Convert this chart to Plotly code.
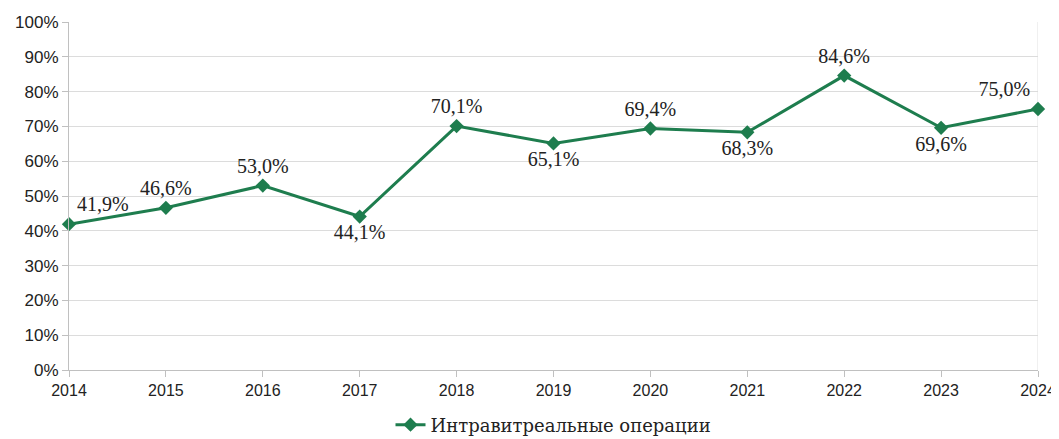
import plotly.graph_objects as go

years = [2014, 2015, 2016, 2017, 2018, 2019, 2020, 2021, 2022, 2023, 2024]
values = [41.9, 46.6, 53.0, 44.1, 70.1, 65.1, 69.4, 68.3, 84.6, 69.6, 75.0]
label_pos = ["top right", "top center", "top center", "bottom center", "top center",
             "bottom center", "top center", "bottom center", "top center",
             "bottom center", "top left"]
series_name = "Интравитреальные операции"
y_ticks = list(range(0, 101, 10))

labels = [f"{v:.1f}%".replace(".", ",") for v in values]
serif = "Liberation Serif, Times New Roman, serif"

fig = go.Figure()
fig.add_trace(go.Scatter(
    x=years, y=values, mode="lines+markers+text", name=series_name,
    line=dict(color="#1e7d4e", width=3),
    marker=dict(symbol="diamond", size=11, color="#1e7d4e"),
    text=labels, textposition=label_pos,
    textfont=dict(family=serif, size=20, color="#222222"),
    cliponaxis=False,
))

fig.update_layout(
    width=1051, height=431,
    margin=dict(l=61, r=21, t=14, b=69, autoexpand=False),
    paper_bgcolor="white", plot_bgcolor="white",
    showlegend=True,
    legend=dict(orientation="h", x=0.5, xanchor="center", y=-0.158, yanchor="middle",
                font=dict(family="DejaVu Serif", size=18, color="#222222")),
    xaxis=dict(range=[2014, 2024], tickmode="array", tickvals=years,
               ticks="outside", ticklen=6, tickcolor="#c0c0c0",
               showline=True, linecolor="#c0c0c0", linewidth=1,
               showgrid=False, zeroline=False,
               tickfont=dict(family="Liberation Sans", size=16, color="#222222")),
    yaxis=dict(range=[0, 100], tickmode="array", tickvals=y_ticks,
               ticktext=[f"{t}%" for t in y_ticks],
               ticks="outside", ticklen=6, tickcolor="#c0c0c0",
               showline=True, linecolor="#c0c0c0", linewidth=1,
               showgrid=True, gridcolor="#dcdcdc", zeroline=False,
               tickfont=dict(family="Liberation Sans", size=17, color="#222222")),
)
fig.add_shape(type="line", xref="x", yref="paper", x0=2024, x1=2024, y0=0, y1=1,
              line=dict(color="#e0e0e0", width=1), layer="below")

fig.write_html("out.html")
